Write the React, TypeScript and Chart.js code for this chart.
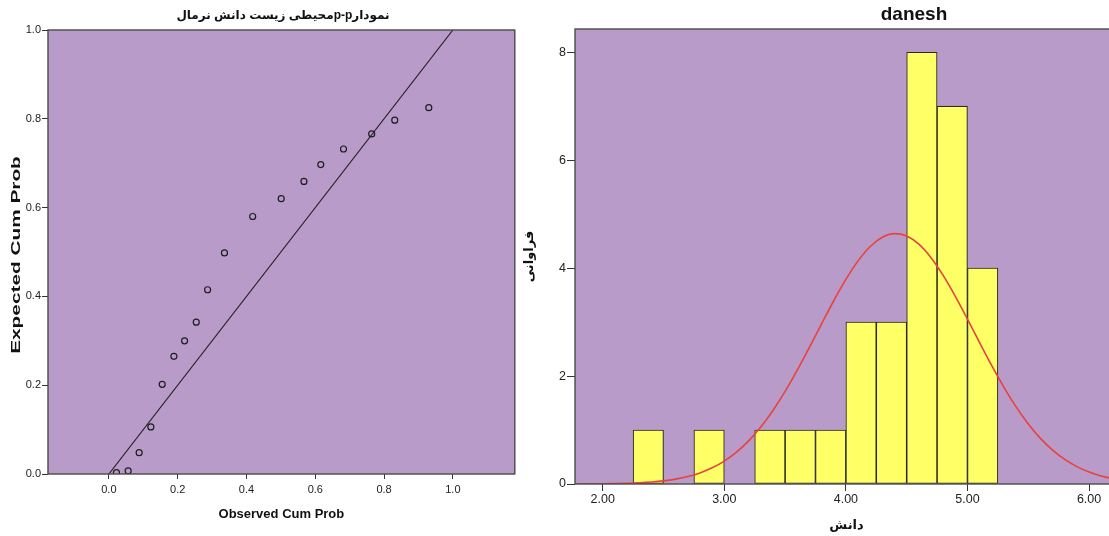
import { useEffect, useRef } from 'react';
import { Chart, registerables } from 'chart.js';

Chart.register(...registerables);

// ---- Normal P-P plot ----
const PP_TITLE = 'محیطی زیست دانش نرمالp-pنمودار';
const PP_X_TITLE = 'Observed Cum Prob';
const PP_Y_TITLE = 'Expected Cum Prob';
const OBSERVED_CUM_PROB = [0.022, 0.056, 0.088, 0.122, 0.155, 0.189, 0.220, 0.254, 0.287, 0.336, 0.418, 0.501, 0.567, 0.616, 0.682, 0.764, 0.831, 0.930];
const EXPECTED_CUM_PROB = [0.003, 0.007, 0.048, 0.106, 0.202, 0.265, 0.300, 0.342, 0.415, 0.498, 0.580, 0.620, 0.659, 0.697, 0.732, 0.766, 0.797, 0.825];
const DIAGONAL = [0, 1];
const PP_TICKS_X = [0, 0.2, 0.4, 0.6, 0.8, 1.0];
const PP_TICKS_Y = [0, 0.2, 0.4, 0.6, 0.8, 1.0];

// ---- Histogram of danesh ----
const HIST_TITLE = 'danesh';
const HIST_X_TITLE = 'دانش';
const HIST_Y_TITLE = 'فراوانی';
const BIN_CENTERS = [2.375, 2.625, 2.875, 3.125, 3.375, 3.625, 3.875, 4.125, 4.375, 4.625, 4.875, 5.125];
const FREQUENCIES = [1, 0, 1, 0, 1, 1, 1, 3, 3, 8, 7, 4];
const CURVE_X = [1.7, 1.8, 1.9, 2.0, 2.1, 2.2, 2.3, 2.4, 2.5, 2.6, 2.7, 2.8, 2.9, 3.0, 3.1, 3.2, 3.3, 3.4, 3.5, 3.6, 3.7, 3.8, 3.9, 4.0, 4.1, 4.2, 4.3, 4.4, 4.5, 4.6, 4.7, 4.8, 4.9, 5.0, 5.1, 5.2, 5.3, 5.4, 5.5, 5.6, 5.7, 5.8, 5.9, 6.0, 6.1, 6.2, 6.3, 6.4];
const CURVE_Y = [0.001, 0.001, 0.002, 0.004, 0.008, 0.013, 0.022, 0.036, 0.058, 0.091, 0.138, 0.206, 0.300, 0.425, 0.590, 0.799, 1.056, 1.362, 1.715, 2.109, 2.532, 2.967, 3.395, 3.791, 4.134, 4.401, 4.573, 4.639, 4.595, 4.443, 4.194, 3.865, 3.477, 3.054, 2.618, 2.192, 1.791, 1.429, 1.113, 0.846, 0.628, 0.455, 0.322, 0.222, 0.150, 0.099, 0.063, 0.040];
const HIST_TICKS_X = [2, 3, 4, 5, 6];
const HIST_TICKS_Y = [0, 2, 4, 6, 8];

const SANS = "'Liberation Sans', Arial, 'DejaVu Sans', sans-serif";
const NARROW = "'Liberation Sans Narrow', 'Liberation Sans', Arial, sans-serif";
const PLOT_FILL = '#B89BC9';
const FRAME = '#4a4a4a';
const INK = '#1e1e1e';

// Fills the plot area and outlines it.
const plotFrame = {
  id: 'plotFrame',
  beforeDatasetsDraw(chart: any, _args: any, opts: any) {
    const { ctx, chartArea: a } = chart;
    ctx.save();
    ctx.fillStyle = opts.fill;
    ctx.fillRect(a.left, a.top, a.right - a.left, a.bottom - a.top);
    ctx.restore();
  },
  afterDraw(chart: any, _args: any, opts: any) {
    const { ctx, chartArea: a } = chart;
    ctx.save();
    ctx.strokeStyle = opts.stroke;
    ctx.lineWidth = opts.width;
    ctx.strokeRect(a.left, a.top, a.right - a.left, a.bottom - a.top);
    ctx.restore();
  },
};

// Free-standing labels (chart headings, stretched axis captions).
const labels = {
  id: 'labels',
  afterDraw(chart: any, _args: any, opts: any) {
    if (!opts || !opts.items) return;
    const ctx = chart.ctx;
    for (const it of opts.items) {
      ctx.save();
      ctx.font = `bold ${it.size}px ${SANS}`;
      ctx.fillStyle = '#111';
      ctx.textAlign = 'center';
      ctx.textBaseline = 'middle';
      ctx.translate(it.x, it.y);
      if (it.rotate) ctx.rotate(it.rotate);
      if (it.stretch) ctx.scale(it.stretch, 1);
      ctx.fillText(it.text, 0, 0);
      ctx.restore();
    }
  },
};

function PPPlot() {
  const ref = useRef<HTMLCanvasElement>(null);
  useEffect(() => {
    if (!ref.current) return;
    const chart = new Chart(ref.current, {
      type: 'scatter',
      data: {
        datasets: [
          {
            type: 'line',
            data: DIAGONAL.map((v) => ({ x: v, y: v })),
            borderColor: INK,
            borderWidth: 1.1,
            pointRadius: 0,
            fill: false,
            order: 1,
          } as any,
          {
            type: 'scatter',
            data: OBSERVED_CUM_PROB.map((x, i) => ({ x, y: EXPECTED_CUM_PROB[i] })),
            pointStyle: 'circle',
            pointRadius: 3,
            pointBorderWidth: 1.2,
            borderColor: INK,
            backgroundColor: 'rgba(0,0,0,0)',
            order: 0,
          } as any,
        ],
      },
      options: {
        responsive: false,
        maintainAspectRatio: false,
        animation: false,
        events: [],
        layout: { padding: { left: 0, right: 2, top: 30, bottom: 0 } },
        plugins: {
          legend: { display: false },
          tooltip: { enabled: false },
          title: { display: false },
          plotFrame: { fill: PLOT_FILL, stroke: FRAME, width: 1.4 },
          labels: {
            items: [
              { text: PP_TITLE, size: 12, x: 283, y: 16 },
              { text: PP_Y_TITLE, size: 13, x: 16, y: 255, rotate: -Math.PI / 2, stretch: 1.6 },
            ],
          },
        } as any,
        scales: {
          x: {
            type: 'linear',
            min: -0.177,
            max: 1.18,
            afterBuildTicks: (s: any) => { s.ticks = PP_TICKS_X.map((value) => ({ value })); },
            afterFit: (s: any) => { s.height = 62; },
            ticks: {
              autoSkip: false, maxRotation: 0, padding: 4,
              color: '#222', font: { family: NARROW, size: 11 },
              callback: (v: any) => Number(v).toFixed(1),
            },
            grid: { display: true, drawOnChartArea: false, tickLength: 5, tickColor: '#333' },
            border: { display: false },
            title: {
              display: true, text: PP_X_TITLE, color: '#111',
              font: { family: SANS, size: 13, weight: 'bold' }, padding: { top: 0, bottom: 14 },
            },
          },
          y: {
            type: 'linear',
            min: 0,
            max: 1,
            afterBuildTicks: (s: any) => { s.ticks = PP_TICKS_Y.map((value) => ({ value })); },
            afterFit: (s: any) => { s.width = 48; },
            ticks: {
              autoSkip: false, padding: 1,
              color: '#222', font: { family: NARROW, size: 11 },
              callback: (v: any) => Number(v).toFixed(1),
            },
            grid: { display: true, drawOnChartArea: false, tickLength: 6, tickColor: '#333' },
            border: { display: false },
          },
        },
      },
      plugins: [plotFrame, labels],
    });
    return () => chart.destroy();
  }, []);
  return (
    <canvas
      ref={ref}
      width={520}
      height={536}
      style={{ position: 'absolute', left: 0, top: 0, width: 520, height: 536 }}
    />
  );
}

function Histogram() {
  const ref = useRef<HTMLCanvasElement>(null);
  useEffect(() => {
    if (!ref.current) return;
    const chart = new Chart(ref.current, {
      type: 'bar',
      data: {
        datasets: [
          {
            type: 'line',
            data: CURVE_X.map((x, i) => ({ x, y: CURVE_Y[i] })),
            borderColor: '#E8423F',
            borderWidth: 1.6,
            pointRadius: 0,
            fill: false,
            cubicInterpolationMode: 'monotone',
            order: 0,
          } as any,
          {
            type: 'bar',
            data: BIN_CENTERS.map((x, i) => ({ x, y: FREQUENCIES[i] })),
            backgroundColor: '#FFFF66',
            borderColor: '#2a2a2a',
            borderWidth: 1.1,
            borderSkipped: false,
            barPercentage: 1,
            categoryPercentage: 1,
            order: 1,
          } as any,
        ],
      },
      options: {
        responsive: false,
        maintainAspectRatio: false,
        animation: false,
        events: [],
        layout: { padding: { left: 0, right: 12, top: 29, bottom: 0 } },
        plugins: {
          legend: { display: false },
          tooltip: { enabled: false },
          title: { display: false },
          plotFrame: { fill: PLOT_FILL, stroke: FRAME, width: 1.4 },
          labels: { items: [{ text: HIST_TITLE, size: 19, x: 394, y: 15 }] },
        } as any,
        scales: {
          x: {
            type: 'linear',
            min: 1.772,
            max: 6.238,
            offset: false,
            afterBuildTicks: (s: any) => { s.ticks = HIST_TICKS_X.map((value) => ({ value })); },
            afterFit: (s: any) => { s.height = 52; },
            ticks: {
              autoSkip: false, maxRotation: 0, padding: 1.5,
              color: '#222', font: { family: SANS, size: 12.5 },
              callback: (v: any) => Number(v).toFixed(2),
            },
            grid: { display: true, offset: false, drawOnChartArea: false, tickLength: 7, tickColor: '#333' },
            border: { display: false },
            title: {
              display: true, text: HIST_X_TITLE, color: '#111',
              font: { family: SANS, size: 13, weight: 'bold' }, padding: { top: 0, bottom: 3 },
            },
          },
          y: {
            type: 'linear',
            min: 0,
            max: 8.43,
            afterBuildTicks: (s: any) => { s.ticks = HIST_TICKS_Y.map((value) => ({ value })); },
            afterFit: (s: any) => { s.width = 55; },
            ticks: {
              autoSkip: false, padding: 1,
              color: '#222', font: { family: SANS, size: 12.5 },
              callback: (v: any) => String(v),
            },
            grid: { display: true, drawOnChartArea: false, tickLength: 8, tickColor: '#333' },
            border: { display: false },
            title: {
              display: true, text: HIST_Y_TITLE, color: '#111',
              font: { family: SANS, size: 13, weight: 'bold' }, padding: { top: 2, bottom: 0 },
            },
          },
        },
      },
      plugins: [plotFrame, labels],
    });
    return () => chart.destroy();
  }, []);
  return (
    <canvas
      ref={ref}
      width={610}
      height={536}
      style={{ position: 'absolute', left: 520, top: 0, width: 610, height: 536 }}
    />
  );
}

export default function App() {
  return (
    <div
      style={{
        position: 'fixed', left: 0, top: 0, width: 1109, height: 536,
        overflow: 'hidden', background: '#ffffff',
      }}
    >
      <PPPlot />
      <Histogram />
    </div>
  );
}
